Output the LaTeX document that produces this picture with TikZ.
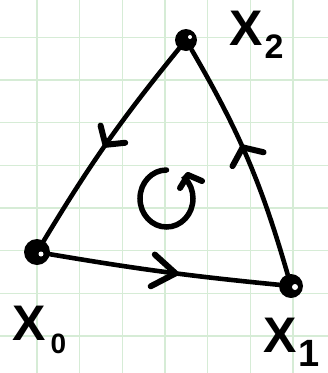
\documentclass[tikz,border=0pt]{standalone}
\usepackage{fontspec}
\setmainfont{Liberation Sans}
\usetikzlibrary{decorations.markings,calc}
\definecolor{gridgreen}{RGB}{214,236,214}
\begin{document}
\begin{tikzpicture}[x=1pt,y=-1pt,
  gridline/.style={draw=gridgreen,line width=1.6pt},
  side/.style={draw,line width=4.6pt,line cap=round},
  barb/.style={line width=6pt,line cap=round,line join=round},
  vert/.style={circle,fill=black,inner sep=0pt},
  hole/.style={fill=white},
  lab/.style={inner sep=0pt,anchor=base west,font=\bfseries\fontsize{50}{50}\selectfont},
  arrowat/.style n args={3}{postaction={decorate,decoration={markings,mark=at position #1 with {\draw[barb] (-#2,-#3) -- (0,0) -- (-#2,#3);}}}}
  ]
\fill[white] (0,0) rectangle (328,373);
\useasboundingbox (0,0) rectangle (328,373);
\foreach \i in {0,...,6} \draw[gridline] ({37+42.67*\i},0) -- ({37+42.67*\i},373);
\foreach \j in {0,...,7} \draw[gridline] (0,{37.3+42.67*\j}) -- (328,{37.3+42.67*\j});
% vertices
\node[vert,minimum size=22pt] (x2) at (186,40) {};
\node[vert,minimum size=26pt] (x0) at (37,252) {};
\node[vert,minimum size=24pt] (x1) at (291,286) {};
% edges
\draw[side,arrowat={0.55}{23}{16}] (x0) to[bend right=2] (x1);
\draw[side,arrowat={0.55}{13}{17}] (x1) to[bend right=7] (x2);
\draw[side,arrowat={0.515}{13}{15}] (x2) to[bend right=4] (x0);
% holes in the dots
\fill[hole] (190,37) circle (2);
\fill[hole] (41,254) circle (2.5);
\fill[hole] (295,287) circle (3);
% orientation arrow
\draw[side,line width=5.5pt] (166.5,170) arc[start angle=270,end angle=-46,x radius=26.5,y radius=28.5] -- (188,175);
\draw[barb] (180,188) -- (188,175) -- (202,181);
% labels
\node[lab] (lx2) at (229,45) {X\hspace{2pt}\raisebox{-13pt}{\fontsize{34}{34}\selectfont 2}};
\node[lab] (lx0) at (12,340) {X\hspace{5pt}\raisebox{-13pt}{\fontsize{28}{28}\selectfont 0}};
\node[lab] (lx1) at (263,352) {X\hspace{2pt}\raisebox{-14pt}{\fontsize{38}{38}\selectfont 1}};
\end{tikzpicture}
\end{document}
